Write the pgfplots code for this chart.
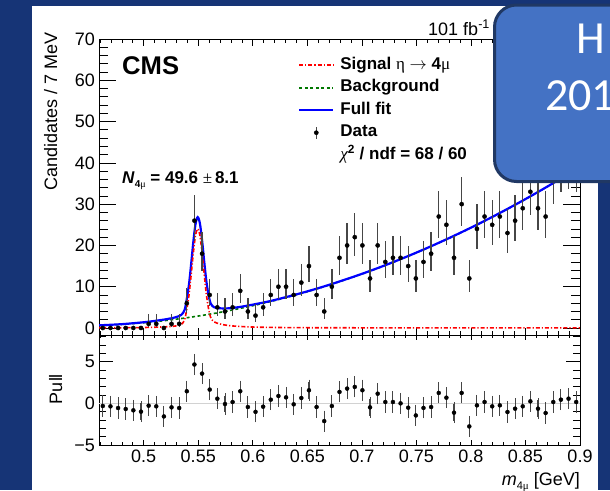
\documentclass[border=0pt]{standalone}
\usepackage{pgfplots}
\pgfplotsset{compat=1.18}
\usepackage{pgfplotstable}
\usepackage{fontspec}
\setmainfont{Liberation Sans}
\newfontfamily\symfont{Liberation Serif}
\newfontfamily\slidefont{Carlito}

\definecolor{slidebg}{RGB}{22,52,118}
\definecolor{boxfill}{RGB}{68,114,196}
\definecolor{boxline}{RGB}{32,56,100}
\definecolor{fitblue}{RGB}{0,0,255}
\definecolor{sigred}{RGB}{255,0,0}
\definecolor{bkggreen}{RGB}{0,120,0}
\definecolor{barcol}{RGB}{70,70,70}

% candidates per 7 MeV bin, with asymmetric Poisson errors
\pgfplotstableread{
x y em ep
0.4625 0 0 0
0.4695 0 0 0
0.4765 0 0 0
0.4835 0 0 0
0.4905 0 0 0
0.4975 0 0 0
0.5045 1 0.83 2.30
0.5115 1 0.83 2.30
0.5185 0 0 0
0.5255 1 0.83 2.30
0.5325 1 0.83 2.30
0.5395 6 2.38 3.58
0.5465 26 5.03 6.17
0.5535 18 4.17 5.32
0.5605 8 2.76 3.94
0.5675 5 2.16 3.38
0.5745 4 1.91 3.16
0.5815 5 2.16 3.38
0.5885 9 2.93 4.11
0.5955 4 1.91 3.16
0.6025 3 1.63 2.92
0.6095 5 2.16 3.38
0.6165 8 2.76 3.94
0.6235 10 3.09 4.27
0.6305 10 3.09 4.27
0.6375 8 2.76 3.94
0.6445 11 3.25 4.41
0.6515 15 3.80 4.95
0.6585 8 2.76 3.94
0.6655 4 1.91 3.16
0.6725 10 3.09 4.27
0.6795 17 4.05 5.20
0.6865 20 4.40 5.55
0.6935 22 4.62 5.76
0.7005 20 4.40 5.55
0.7075 12 3.39 4.56
0.7145 20 4.40 5.55
0.7215 16 3.93 5.08
0.7285 17 4.05 5.20
0.7355 17 4.05 5.20
0.7425 15 3.80 4.95
0.7495 12 3.39 4.56
0.7565 16 3.93 5.08
0.7635 18 4.17 5.32
0.7705 27 5.13 6.26
0.7775 25 4.93 6.07
0.7845 17 4.05 5.20
0.7915 30 5.41 6.54
0.7985 12 3.39 4.56
0.8055 24 4.83 5.97
0.8125 27 5.13 6.26
0.8195 25 4.93 6.07
0.8265 27 5.13 6.26
0.8335 23 4.73 5.87
0.8405 26 5.03 6.17
0.8475 29 5.32 6.45
0.8545 33 5.68 6.81
0.8615 29 5.32 6.45
0.8685 27 5.13 6.26
0.8755 36 5.94 7.06
0.8825 39 6.18 7.31
0.8895 40 6.26 7.39
0.8965 39 6.18 7.31
}\datatab

% pulls of the data with respect to the full fit
\pgfplotstableread{
x p
0.4625 -0.32
0.4695 -0.36
0.4765 -0.56
0.4835 -0.68
0.4905 -0.84
0.4975 -1.00
0.5045 -0.28
0.5115 -0.36
0.5185 -1.57
0.5255 -0.48
0.5325 -0.56
0.5395 1.45
0.5465 4.66
0.5535 3.57
0.5605 1.65
0.5675 0.56
0.5745 -0.08
0.5815 0.16
0.5885 1.45
0.5955 -0.44
0.6025 -1.02
0.6095 -0.40
0.6165 0.44
0.6235 0.88
0.6305 0.72
0.6375 -0.12
0.6445 0.64
0.6515 1.57
0.6585 -0.44
0.6655 -2.13
0.6725 -0.32
0.6795 1.37
0.6865 1.77
0.6935 1.97
0.7005 1.57
0.7075 -0.48
0.7145 1.16
0.7215 0.16
0.7285 0.16
0.7355 0.00
0.7425 -0.52
0.7495 -1.45
0.7565 -0.55
0.7635 -0.44
0.7705 1.25
0.7775 0.68
0.7845 -1.12
0.7915 1.25
0.7985 -2.77
0.8055 -0.24
0.8125 0.16
0.8195 -0.36
0.8265 -0.24
0.8335 -1.04
0.8405 -0.64
0.8475 -0.36
0.8545 0.24
0.8615 -0.64
0.8685 -1.16
0.8755 0.16
0.8825 0.44
0.8895 0.56
0.8965 0.16
}\pulltab

% background component
\pgfplotstableread{
x b
0.459 0.59
0.48 0.86
0.50 1.27
0.52 1.81
0.54 2.50
0.56 3.32
0.58 4.29
0.60 5.40
0.62 6.65
0.64 8.05
0.66 9.58
0.68 11.26
0.70 13.07
0.72 15.03
0.74 17.13
0.76 19.37
0.78 21.75
0.80 24.28
0.82 26.94
0.84 29.75
0.86 32.70
0.88 35.79
0.90 39.02
}\bkgtab

% eta -> 4mu signal component
\pgfplotstableread{
x s
0.459 0.05
0.480 0.07
0.500 0.12
0.5095 0.18
0.5215 0.30
0.5295 0.50
0.5345 0.90
0.5375 2.00
0.5395 4.60
0.5415 8.00
0.5435 12.90
0.5455 18.20
0.5475 22.40
0.5495 24.00
0.5515 22.40
0.5535 18.20
0.5555 12.90
0.5575 8.00
0.5595 4.60
0.5615 2.50
0.5645 1.50
0.5695 1.00
0.5775 0.60
0.5895 0.35
0.6095 0.17
0.6495 0.07
0.7495 0.03
0.900 0.02
}\sigtab

% signal + background
\pgfplotstableread{
x f
0.459 0.64
0.480 0.93
0.500 1.39
0.5095 1.69
0.5215 2.16
0.5295 2.62
0.5345 3.19
0.5375 4.40
0.5395 7.08
0.5415 10.55
0.5435 15.53
0.5455 20.91
0.5475 25.19
0.5495 26.87
0.5515 25.35
0.5535 21.24
0.5555 16.02
0.5575 11.21
0.5595 7.90
0.5615 5.89
0.5645 5.03
0.5695 4.77
0.5775 4.76
0.5895 5.15
0.6095 6.15
0.62 6.78
0.64 8.14
0.66 9.64
0.68 11.31
0.70 13.11
0.72 15.06
0.74 17.16
0.76 19.40
0.78 21.78
0.80 24.30
0.82 26.96
0.84 29.77
0.86 32.72
0.88 35.81
0.90 39.04
}\fittab

\tikzset{
  sigstyle/.style={sigred, line width=1.6pt, dash pattern=on 4pt off 2pt on 1.2pt off 2pt},
  bkgstyle/.style={bkggreen, line width=1.6pt, dash pattern=on 3pt off 2.5pt},
  fitstyle/.style={fitblue, line width=2.2pt},
}
\pgfplotsset{
  sig legend/.style={legend image code/.code={\draw[sigstyle] (0pt,0pt) -- (34pt,0pt);}},
  bkg legend/.style={legend image code/.code={\draw[bkgstyle] (0pt,0pt) -- (34pt,0pt);}},
  fit legend/.style={legend image code/.code={\draw[fitstyle] (0pt,0pt) -- (34pt,0pt);}},
  data legend/.style={legend image code/.code={\draw[barcol, line width=1.3pt] (17pt,-6pt) -- (17pt,6pt); \fill[black] (17pt,0pt) circle (2.1pt);}},
  tickfont/.style={font=\fontsize{18}{20}\selectfont},
}

\begin{document}
\begin{tikzpicture}
\path[use as bounding box] (0pt,0pt) rectangle (610pt,-490pt);
\clip (0pt,0pt) rectangle (610pt,-490pt);
\fill[slidebg] (0pt,0pt) rectangle (610pt,-490pt);
\fill[white] (32pt,-6pt) rectangle (598pt,-495pt);

% upper panel: mass spectrum and fit
\begin{axis}[
  at={(99pt,-335pt)}, anchor=south west,
  scale only axis, width=481pt, height=296pt,
  xmin=0.459, xmax=0.9, ymin=-1.7, ymax=70,
  xtick={0.5,0.55,0.6,0.65,0.7,0.75,0.8,0.85,0.9}, xticklabels={},
  minor xtick={0.46,0.47,0.48,0.49,0.51,0.52,0.53,0.54,0.56,0.57,0.58,0.59,0.61,0.62,0.63,0.64,0.66,0.67,0.68,0.69,0.71,0.72,0.73,0.74,0.76,0.77,0.78,0.79,0.81,0.82,0.83,0.84,0.86,0.87,0.88,0.89},
  ytick={0,10,20,30,40,50,60,70},
  minor ytick={2,4,6,8,12,14,16,18,22,24,26,28,32,34,36,38,42,44,46,48,52,54,56,58,62,64,66,68},
  axis line style={line width=0.8pt},
  tick style={black, line width=0.7pt},
  xtick style={/pgfplots/major tick length=7pt, /pgfplots/minor tick length=4pt},
  ytick style={/pgfplots/major tick length=17pt, /pgfplots/minor tick length=9pt},
  yticklabel style={tickfont, inner sep=0pt, xshift=-4pt},
  /pgf/number format/assume math mode=true,
  legend cell align=left,
  legend style={at={(0.4137,0.940)}, anchor=north west, draw=none, fill=none,
    inner sep=0pt, font=\fontsize{17}{20}\selectfont\bfseries,
    row sep=6pt, column sep=6pt,
    nodes={inner sep=0pt, text height=12.5pt, text depth=4pt}},
]
\addlegendimage{sig legend}
\addlegendentry{Signal {\symfont\mdseries η} $\rightarrow$ 4{\symfont\mdseries μ}}
\addlegendimage{bkg legend}
\addlegendentry{Background}
\addlegendimage{fit legend}
\addlegendentry{Full fit}
\addlegendimage{data legend}
\addlegendentry{Data}
\addlegendimage{empty legend}
\addlegendentry{{\symfont\mdseries\itshape χ}\textsuperscript{2} / ndf = 68 / 60}

\addplot[bkgstyle, smooth, forget plot] table[x=x, y=b] {\bkgtab};
\addplot[fitstyle, smooth, forget plot] table[x=x, y=f] {\fittab};
\addplot[sigstyle, smooth, forget plot] table[x=x, y=s] {\sigtab};
\addplot[only marks, mark=*, mark size=2.1pt, black, forget plot,
  error bars/.cd, y dir=both, y explicit, error mark=none,
  error bar style={barcol, line width=1.3pt}]
  table[x=x, y=y, y error plus=ep, y error minus=em] {\datatab};
\end{axis}

% lower panel: pulls
\begin{axis}[
  at={(99pt,-445pt)}, anchor=south west,
  scale only axis, width=481pt, height=110pt,
  xmin=0.459, xmax=0.9, ymin=-5, ymax=8.2,
  xtick={0.5,0.55,0.6,0.65,0.7,0.75,0.8,0.85,0.9},
  xticklabels={0.5,0.55,0.6,0.65,0.7,0.75,0.8,0.85,0.9},
  minor xtick={0.46,0.47,0.48,0.49,0.51,0.52,0.53,0.54,0.56,0.57,0.58,0.59,0.61,0.62,0.63,0.64,0.66,0.67,0.68,0.69,0.71,0.72,0.73,0.74,0.76,0.77,0.78,0.79,0.81,0.82,0.83,0.84,0.86,0.87,0.88,0.89},
  ytick={-5,0,5}, yticklabels={−5,0,5},
  minor ytick={-4,-3,-2,-1,1,2,3,4,6,7,8},
  axis line style={line width=0.8pt},
  tick style={black, line width=0.7pt},
  xtick style={/pgfplots/major tick length=5pt, /pgfplots/minor tick length=3pt},
  ytick style={/pgfplots/major tick length=14pt, /pgfplots/minor tick length=7pt},
  yticklabel style={tickfont, inner sep=0pt, xshift=-4pt},
  xticklabel style={tickfont, inner sep=0pt, yshift=-5pt},
]
\addplot[gray!35, line width=0.8pt] coordinates {(0.459,0) (0.9,0)};
\addplot[only marks, mark=*, mark size=2pt, black,
  error bars/.cd, y dir=both, y fixed=1, error mark=-,
  error mark options={barcol, line width=0.9pt, mark size=2.2pt},
  error bar style={barcol, line width=1.1pt}]
  table[x=x, y=p] {\pulltab};
\end{axis}

% titles and labels
\node[rotate=90, anchor=base east, inner sep=0pt, font=\fontsize{18}{20}\selectfont] at (57pt,-32pt) {Candidates / 7 MeV};
\node[rotate=90, anchor=base, inner sep=0pt, font=\fontsize{18}{20}\selectfont] at (62pt,-389pt) {Pull};
\node[anchor=base east, inner sep=0pt, font=\fontsize{18}{20}\selectfont] at (580pt,-485pt)
  {\textit{m}\raisebox{-4pt}{\fontsize{11}{12}\selectfont 4{\symfont μ}} [GeV]};
\node[anchor=base west, inner sep=0pt, font=\fontsize{25.6}{28}\selectfont\bfseries] at (122pt,-74pt) {CMS};
\node[anchor=base west, inner sep=0pt, font=\fontsize{17}{20}\selectfont\bfseries] at (122pt,-183.5pt)
  {\textit{N}\raisebox{-4pt}{\fontsize{10}{12}\selectfont 4{\symfont\mdseries μ}} = 49.6 {\symfont\mdseries ±}\,8.1};
\node[anchor=base west, inner sep=0pt, font=\fontsize{18}{20}\selectfont] at (428pt,-35pt) {101 fb\textsuperscript{-1}};

% slide title box
\draw[boxline, line width=3pt, fill=boxfill, rounded corners=22pt] (494.5pt,-5pt) rectangle (660pt,-181.5pt);
\node[anchor=base west, inner sep=0pt, text=white, font=\slidefont\fontsize{46}{50}\selectfont] at (576.5pt,-53pt) {H};
\node[anchor=base west, inner sep=0pt, text=white, font=\slidefont\fontsize{46}{50}\selectfont] at (545pt,-110pt) {201};
\end{tikzpicture}
\end{document}
